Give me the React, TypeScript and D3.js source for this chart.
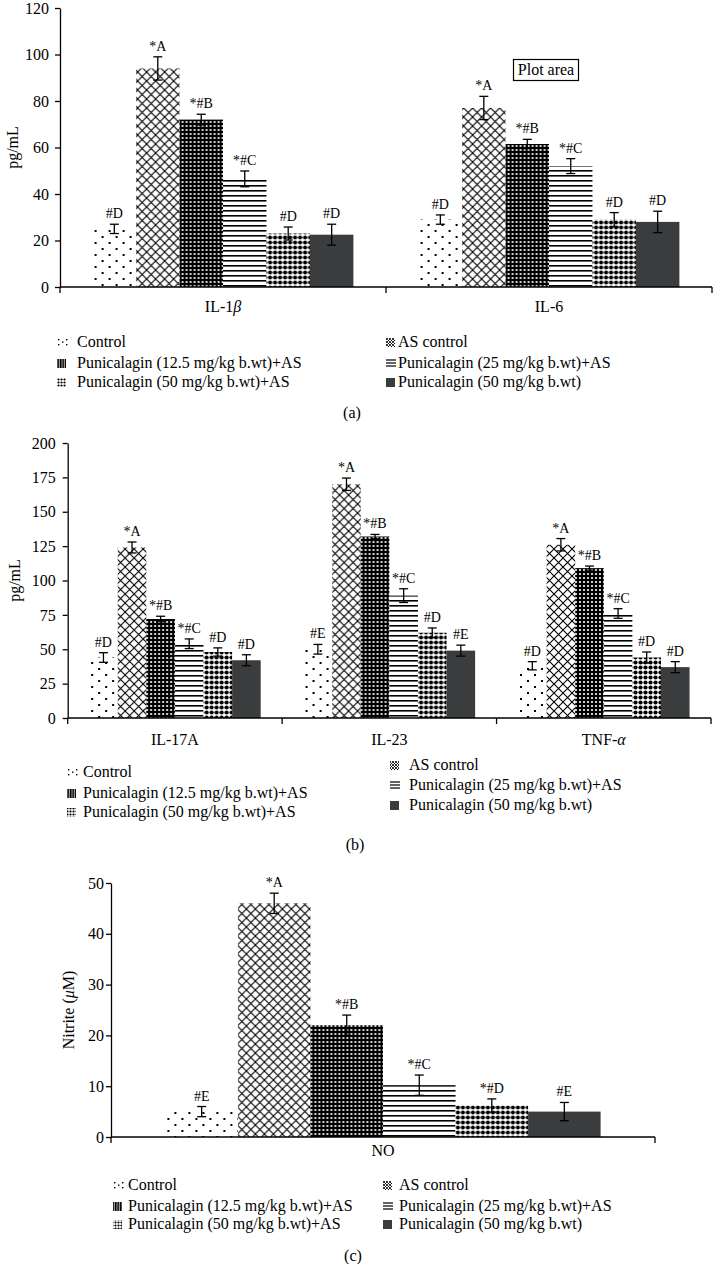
import React, { useEffect, useRef } from "react";
import * as d3 from "d3";

const FONT = "'Liberation Serif', 'Times New Roman', serif";

// treatment groups (same in all three panels)
const seriesNames = [
  "Control",
  "AS control",
  "Punicalagin (12.5 mg/kg b.wt)+AS",
  "Punicalagin (25 mg/kg b.wt)+AS",
  "Punicalagin (50 mg/kg b.wt)+AS",
  "Punicalagin (50 mg/kg b.wt)",
];
const seriesFills = [
  "url(#pControl)",
  "url(#pCross)",
  "url(#pDense)",
  "url(#pLines)",
  "url(#pDots)",
  "#3b3c3e",
];

// panel (a)
const categoriesA = ["IL-1β", "IL-6"];
const il1bValues = [25, 94, 72, 46.5, 23, 22.5];
const il1bErrors = [2, 5, 2.3, 3.4, 2.8, 4.5];
const il1bLabels = ["#D", "*A", "*#B", "*#C", "#D", "#D"];
const il6Values = [29, 77, 61.5, 52, 29, 28];
const il6Errors = [2, 5, 2, 3.2, 3, 4.6];
const il6Labels = ["#D", "*A", "*#B", "*#C", "#D", "#D"];

// panel (b)
const categoriesB = ["IL-17A", "IL-23", "TNF-α"];
const il17Values = [44, 124, 72, 54, 48, 42];
const il17Errors = [3.5, 4, 2, 3.5, 3, 4];
const il17Labels = ["#D", "*A", "*#B", "*#C", "#D", "#D"];
const il23Values = [50, 170, 132, 89, 62, 49];
const il23Errors = [3.5, 4.5, 1.5, 5, 3.5, 4];
const il23Labels = ["#E", "*A", "*#B", "*#C", "#D", "#E"];
const tnfValues = [38, 126, 109, 76, 44, 37];
const tnfErrors = [3, 4.5, 1.5, 3.5, 4, 4];
const tnfLabels = ["#D", "*A", "*#B", "*#C", "#D", "#D"];

// panel (c)
const categoriesC = ["NO"];
const noValues = [5, 46, 22, 10.2, 6.2, 5];
const noErrors = [1, 2, 2, 2, 1.3, 1.8];
const noLabels = ["#E", "*A", "*#B", "*#C", "*#D", "#E"];

const panels = [
  {
    categories: categoriesA,
    values: [il1bValues, il6Values],
    errors: [il1bErrors, il6Errors],
    labels: [il1bLabels, il6Labels],
    yMax: 120, yStep: 20, yTitle: "pg/mL", caption: "(a)",
    left: 60, right: 712, top: 8, bottom: 287, tickPad: 6,
    titleX: 18, catY: 312,
    legLeft: { sym: 57, text: 77, rows: [342, 363, 382] },
    legRight: { sym: 386, text: 398, rows: [342, 363, 382] },
    capX: 352, capY: 418, plotArea: true,
  },
  {
    categories: categoriesB,
    values: [il17Values, il23Values, tnfValues],
    errors: [il17Errors, il23Errors, tnfErrors],
    labels: [il17Labels, il23Labels, tnfLabels],
    yMax: 200, yStep: 25, yTitle: "pg/mL", caption: "(b)",
    left: 67.7, right: 711, top: 443, bottom: 718, tickPad: 7,
    titleX: 20, catY: 745,
    legLeft: { sym: 67, text: 83, rows: [772, 793, 812] },
    legRight: { sym: 390, text: 409, rows: [765, 785, 805] },
    capX: 355, capY: 850, plotArea: false,
  },
  {
    categories: categoriesC,
    values: [noValues],
    errors: [noErrors],
    labels: [noLabels],
    yMax: 50, yStep: 10, yTitle: "Nitrite (μM)", caption: "(c)",
    left: 111, right: 655, top: 883, bottom: 1137, tickPad: 2,
    titleX: 74, catY: 1156,
    legLeft: { sym: 113, text: 128, rows: [1185, 1206, 1224] },
    legRight: { sym: 383, text: 399, rows: [1185, 1206, 1224] },
    capX: 353, capY: 1261, plotArea: false,
  },
];

// greek letters are set in italic
const richText = (sel, str) => {
  const parts = str.match(/[α-ω]+|[^α-ω]+/g) || [];
  parts.forEach((t) => {
    const ts = sel.append("tspan").text(t);
    if (/[α-ω]/.test(t)) ts.attr("font-style", "italic");
  });
};

const addPatterns = (defs) => {
  const pat = (id, w, h) =>
    defs
      .append("pattern")
      .attr("id", id)
      .attr("patternUnits", "userSpaceOnUse")
      .attr("width", w)
      .attr("height", h);

  const pc = pat("pControl", 14, 12);
  pc.append("rect").attr("width", 14).attr("height", 12).attr("fill", "#fff");
  pc.append("rect").attr("x", 2).attr("y", 2).attr("width", 2).attr("height", 2).attr("fill", "#000");
  pc.append("rect").attr("x", 9).attr("y", 8).attr("width", 2).attr("height", 2).attr("fill", "#000");

  const px = pat("pCross", 9, 9);
  px.append("rect").attr("width", 9).attr("height", 9).attr("fill", "#fff");
  px.append("path").attr("d", "M-1,-1L10,10M10,-1L-1,10").attr("stroke", "#000").attr("stroke-width", 1.1);

  const pd = pat("pDense", 4, 4);
  pd.append("rect").attr("width", 4).attr("height", 4).attr("fill", "#000");
  pd.append("circle").attr("cx", 2).attr("cy", 2).attr("r", 1.1).attr("fill", "#fff");

  const pl = pat("pLines", 10, 5);
  pl.append("rect").attr("width", 10).attr("height", 5).attr("fill", "#fff");
  pl.append("rect").attr("width", 10).attr("height", 1.6).attr("fill", "#000");

  const pdot = pat("pDots", 5, 5);
  pdot.append("rect").attr("width", 5).attr("height", 5).attr("fill", "#fff");
  pdot.append("circle").attr("cx", 2.5).attr("cy", 2.5).attr("r", 2.1).attr("fill", "#000");

  // small versions for legend keys
  const sx = pat("sCross", 3, 3);
  sx.append("rect").attr("width", 3).attr("height", 3).attr("fill", "#fff");
  sx.append("path").attr("d", "M-1,-1L4,4M4,-1L-1,4").attr("stroke", "#000").attr("stroke-width", 0.8);

  const sd = pat("sDense", 2.5, 2.5);
  sd.append("rect").attr("width", 2.5).attr("height", 2.5).attr("fill", "#000");
  sd.append("rect").attr("x", 1.5).attr("width", 0.7).attr("height", 2.5).attr("fill", "#fff");

  const sdot = pat("sDots", 3, 3);
  sdot.append("rect").attr("width", 3).attr("height", 3).attr("fill", "#fff");
  sdot.append("circle").attr("cx", 1.5).attr("cy", 1.5).attr("r", 1.1).attr("fill", "#000");
};

const drawSwatch = (g, si, x, cy) => {
  const top = cy - 5;
  if (si === 0) {
    [[1, 2], [1, 7], [5, 4.5], [9, 2], [9, 7]].forEach(([dx, dy]) =>
      g.append("rect").attr("x", x + dx).attr("y", top + dy).attr("width", 1.4).attr("height", 1.4).attr("fill", "#000")
    );
  } else if (si === 3) {
    [2, 5, 8].forEach((dy) =>
      g.append("rect").attr("x", x).attr("y", top + dy - 0.6).attr("width", 10).attr("height", 1.2).attr("fill", "#000")
    );
  } else {
    const fill = ["", "url(#sCross)", "url(#sDense)", "", "url(#sDots)", "#3b3c3e"][si];
    g.append("rect").attr("x", x).attr("y", top + 1).attr("width", 9).attr("height", 9).attr("fill", fill);
  }
};

const drawPanel = (svg, p) => {
  const g = svg.append("g").attr("font-family", FONT).attr("fill", "#000");

  const y = d3.scaleLinear().domain([0, p.yMax]).range([p.bottom, p.top]);
  const x0 = d3
    .scaleBand()
    .domain(p.categories)
    .range([p.left, p.right])
    .paddingInner(0.2)
    .paddingOuter(0.1);
  const x1 = d3.scaleBand().domain(seriesNames).range([0, x0.bandwidth()]);
  const bw = x1.bandwidth();

  p.categories.forEach((cat, ci) => {
    const rows = seriesNames.map((s, si) => ({
      s,
      si,
      v: p.values[ci][si],
      e: p.errors[ci][si],
      l: p.labels[ci][si],
    }));
    const cg = g.append("g").attr("transform", `translate(${x0(cat)},0)`);
    const cx = (d) => x1(d.s) + bw / 2;

    cg.selectAll(".bar")
      .data(rows)
      .enter()
      .append("rect")
      .attr("x", (d) => x1(d.s))
      .attr("y", (d) => y(d.v))
      .attr("width", bw)
      .attr("height", (d) => y(0) - y(d.v))
      .attr("fill", (d) => seriesFills[d.si]);

    // error bars
    const eb = cg
      .selectAll(".err")
      .data(rows)
      .enter()
      .append("g")
      .attr("stroke", "#000")
      .attr("stroke-width", 1.3);
    eb.append("line")
      .attr("x1", cx)
      .attr("x2", cx)
      .attr("y1", (d) => y(d.v + d.e))
      .attr("y2", (d) => y(d.v - d.e));
    [1, -1].forEach((sgn) =>
      eb.append("line")
        .attr("x1", (d) => cx(d) - 4.5)
        .attr("x2", (d) => cx(d) + 4.5)
        .attr("y1", (d) => y(d.v + sgn * d.e))
        .attr("y2", (d) => y(d.v + sgn * d.e))
    );

    // significance letters
    cg.selectAll(".lab")
      .data(rows)
      .enter()
      .append("text")
      .attr("x", cx)
      .attr("y", (d) => y(d.v + d.e) - 6)
      .attr("text-anchor", "middle")
      .attr("font-size", 14)
      .text((d) => d.l);

    // category label
    const t = g
      .append("text")
      .attr("x", x0(cat) + x0.bandwidth() / 2)
      .attr("y", p.catY)
      .attr("text-anchor", "middle")
      .attr("font-size", 16);
    richText(t, cat);
  });

  // y axis
  const yAxis = d3
    .axisLeft(y)
    .tickValues(d3.range(0, p.yMax + 1e-9, p.yStep))
    .tickSize(5)
    .tickSizeOuter(0)
    .tickPadding(p.tickPad);
  const ag = g.append("g").attr("transform", `translate(${p.left},0)`).call(yAxis);
  ag.attr("font-family", FONT).attr("font-size", 16).attr("color", "#000");
  ag.selectAll("path,line").attr("stroke-width", 1.3);

  // x axis with ticks between categories
  g.append("line")
    .attr("x1", p.left)
    .attr("x2", p.right)
    .attr("y1", p.bottom)
    .attr("y2", p.bottom)
    .attr("stroke", "#000")
    .attr("stroke-width", 1.3);
  g.selectAll(".xt")
    .data(d3.range(p.categories.length + 1))
    .enter()
    .append("line")
    .attr("x1", (i) => p.left + i * x0.step())
    .attr("x2", (i) => p.left + i * x0.step())
    .attr("y1", p.bottom)
    .attr("y2", p.bottom + 6)
    .attr("stroke", "#000")
    .attr("stroke-width", 1.3);

  // y title
  const yt = g
    .append("text")
    .attr("transform", `translate(${p.titleX},${(p.top + p.bottom) / 2}) rotate(-90)`)
    .attr("text-anchor", "middle")
    .attr("font-size", 16);
  if (p.yTitle.includes("μ")) {
    yt.append("tspan").text("Nitrite (");
    yt.append("tspan").attr("font-style", "italic").text("μ");
    yt.append("tspan").text("M)");
  } else {
    yt.text(p.yTitle);
  }

  if (p.plotArea) {
    g.append("rect")
      .attr("x", 513.5)
      .attr("y", 59.5)
      .attr("width", 65)
      .attr("height", 21)
      .attr("fill", "#fff")
      .attr("stroke", "#000")
      .attr("stroke-width", 1.2);
    g.append("text")
      .attr("x", 546)
      .attr("y", 75)
      .attr("text-anchor", "middle")
      .attr("font-size", 16)
      .text("Plot area");
  }

  // legend
  const leg = g.append("g");
  [0, 2, 4].forEach((si, r) => {
    drawSwatch(leg, si, p.legLeft.sym, p.legLeft.rows[r]);
    leg.append("text")
      .attr("x", p.legLeft.text)
      .attr("y", p.legLeft.rows[r] + 5)
      .attr("font-size", 16)
      .text(seriesNames[si]);
  });
  [1, 3, 5].forEach((si, r) => {
    drawSwatch(leg, si, p.legRight.sym, p.legRight.rows[r]);
    leg.append("text")
      .attr("x", p.legRight.text)
      .attr("y", p.legRight.rows[r] + 5)
      .attr("font-size", 16)
      .text(seriesNames[si]);
  });

  g.append("text")
    .attr("x", p.capX)
    .attr("y", p.capY)
    .attr("text-anchor", "middle")
    .attr("font-size", 16)
    .text(p.caption);
};

const App = () => {
  const svgRef = useRef(null);

  useEffect(() => {
    const svg = d3.select(svgRef.current);
    svg.selectAll("*").remove();
    addPatterns(svg.append("defs"));
    panels.forEach((p) => drawPanel(svg, p));
  }, []);

  return (
    <svg
      ref={svgRef}
      width={713}
      height={1264}
      style={{ position: "absolute", left: 0, top: 0, background: "#fff" }}
    />
  );
};

export default App;
